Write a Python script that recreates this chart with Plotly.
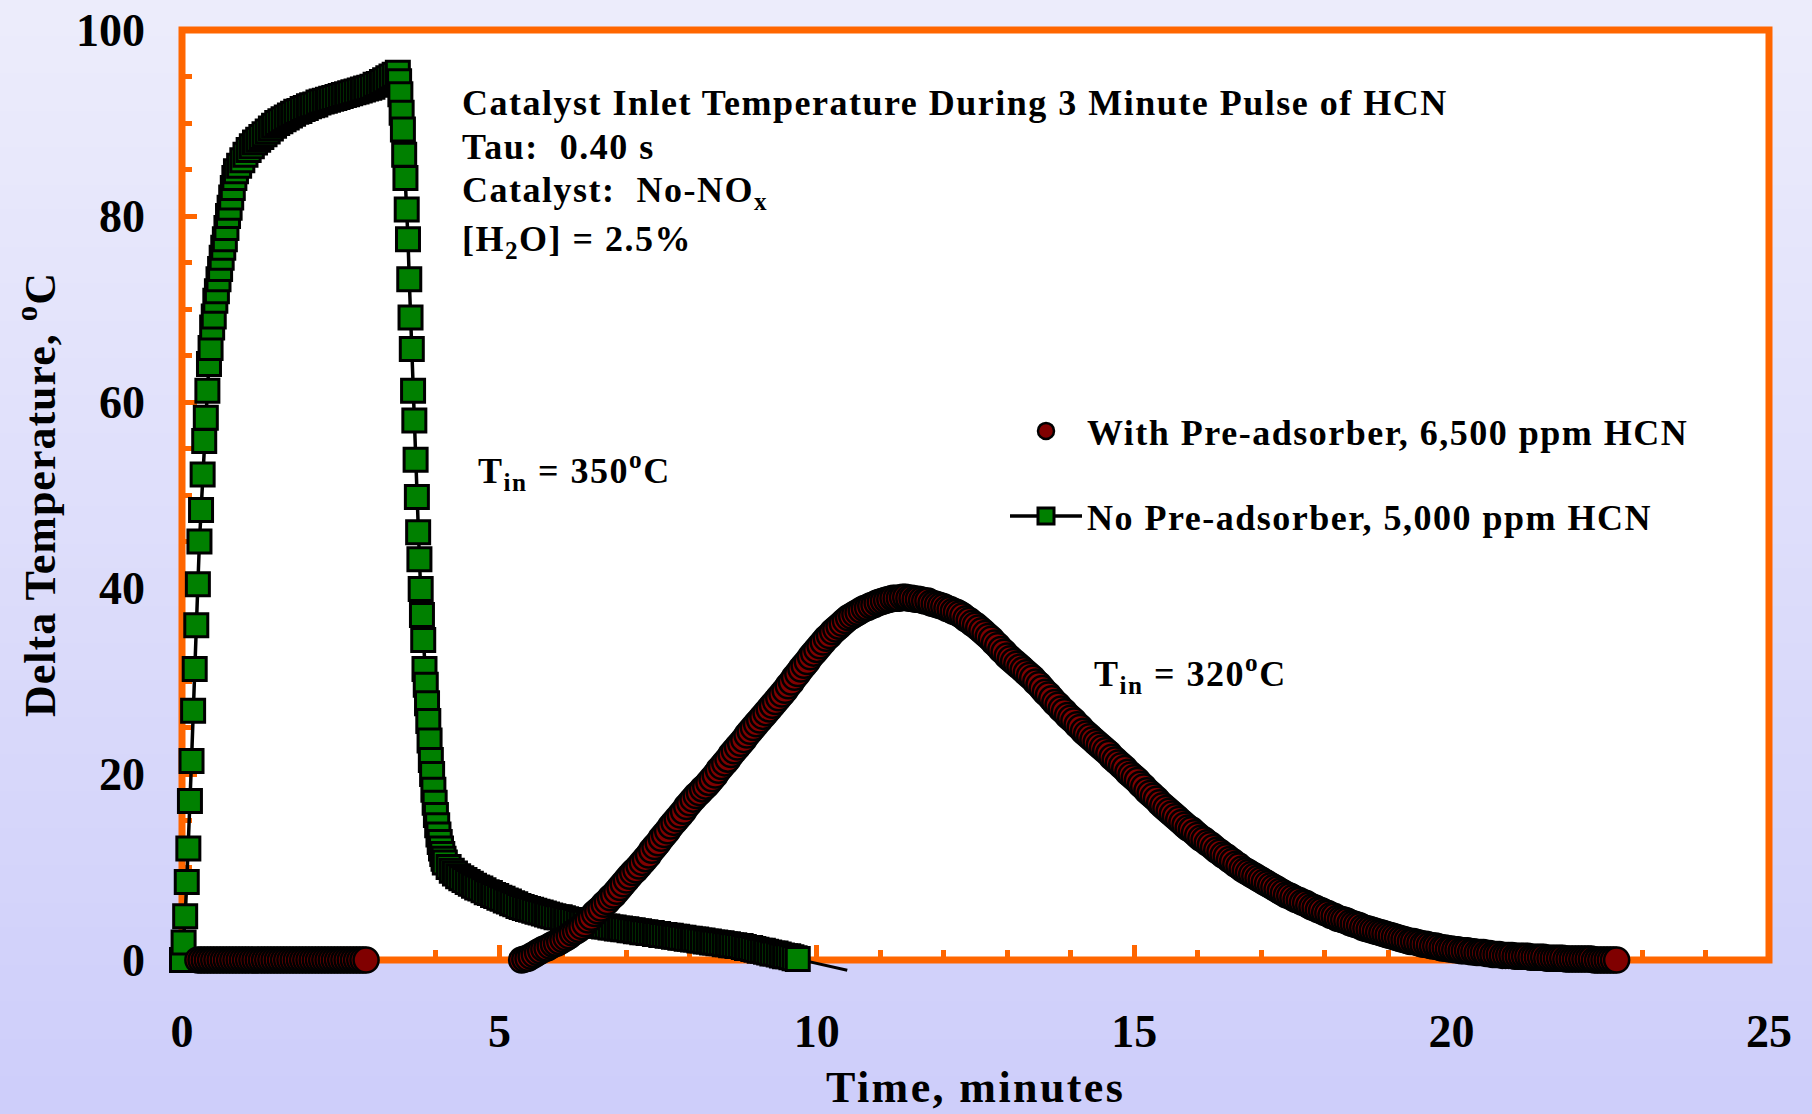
import numpy as np
import plotly.graph_objects as go

# ---------------------------------------------------------------------------
# Data (time in minutes, delta temperature in deg C)
# ---------------------------------------------------------------------------

# No pre-adsorber, 5,000 ppm HCN (T_in = 350 C)
# segment 1: fast rise, logged every 0.025 min from t = 0
no_pre_rise_t0, no_pre_rise_dt = 0.0, 0.025
no_pre_rise_temp = [
    0.0, 1.9, 4.7, 8.4, 12.0, 17.1, 21.4, 26.8, 31.3, 36.0,
    40.4, 45.0, 48.4, 52.2, 55.8, 58.3, 61.2, 64.1, 65.8, 68.0,
    69.2, 70.9, 71.9, 73.2, 74.3, 75.5, 76.6, 77.5, 78.7, 80.0,
    80.9, 82.0, 83.0, 84.1,
]
# segment 2: plateau during the 3 minute pulse, every 0.05 min from t = 0.85
no_pre_plateau_t0, no_pre_plateau_dt = 0.85, 0.05
no_pre_plateau_temp = [
    84.8, 85.4, 86.0, 86.6, 87.1, 87.5, 87.9, 88.2, 88.5, 88.8,
    89.1, 89.4, 89.7, 90.0, 90.2, 90.4, 90.6, 90.8, 91.0, 91.2,
    91.3, 91.5, 91.6, 91.8, 91.9, 92.0, 92.2, 92.3, 92.4, 92.5,
    92.6, 92.7, 92.8, 92.9, 93.0, 93.1, 93.2, 93.3, 93.4, 93.5,
    93.6, 93.7, 93.8, 93.9, 94.1, 94.2, 94.4, 94.6, 94.8, 95.0,
    95.2,
]
# segment 3: drop after the pulse, every 0.02 min from t = 3.40
no_pre_drop_t0, no_pre_drop_dt = 3.40, 0.02
no_pre_drop_temp = [
    95.4, 94.5, 93.1, 91.1, 89.3, 86.6, 84.1, 80.7, 77.5, 73.2,
    69.1, 65.7, 61.2, 58.0, 53.8, 49.8, 46.0, 43.1, 39.9, 37.1,
    34.4, 31.3, 29.6, 27.6, 25.7, 23.6, 21.5, 20.0, 18.3, 16.9,
    15.6, 14.5, 13.5, 12.7, 12.0, 11.4, 10.9, 10.5,
]
# segment 4: slow tail, every 0.05 min from t = 4.20
no_pre_tail_t0, no_pre_tail_dt = 4.20, 0.05
no_pre_tail_temp = [
    10.0, 9.6, 9.3, 9.0, 8.8, 8.6, 8.4, 8.2, 8.0, 7.8, 7.7, 7.5, 7.3, 7.2, 7.0, 6.9,
    6.7, 6.6, 6.4, 6.3, 6.1, 6.0, 5.8, 5.7, 5.6, 5.5, 5.4, 5.3, 5.2, 5.1, 5.0, 4.9, 4.8, 4.7, 4.6, 4.6,
    4.5, 4.4, 4.3, 4.3, 4.2, 4.1, 4.0, 4.0, 3.9, 3.8, 3.8, 3.7, 3.7, 3.6, 3.6, 3.5, 3.5, 3.4, 3.4, 3.3,
    3.3, 3.2, 3.2, 3.1, 3.1, 3.0, 3.0, 2.9, 2.9, 2.8, 2.8, 2.7, 2.7, 2.6, 2.6, 2.5, 2.5, 2.4, 2.4, 2.3,
    2.3, 2.2, 2.2, 2.1, 2.1, 2.0, 2.0, 1.9, 1.9, 1.8, 1.8, 1.7, 1.7, 1.6, 1.6, 1.5, 1.5, 1.4, 1.3, 1.3,
    1.2, 1.1, 1.0, 1.0, 0.9, 0.8, 0.7, 0.7, 0.6, 0.5, 0.4, 0.4, 0.3, 0.2, 0.1,
]
# thermocouple trace continues (line only) after the last logged point
no_pre_end_time = [9.70, 10.10, 10.48]
no_pre_end_temp = [0.1, -0.5, -1.1]

# With pre-adsorber, 6,500 ppm HCN (T_in = 320 C)
# segment 1: flat during the pulse, every 0.05 min from t = 0.25
pre_flat_t0, pre_flat_dt = 0.25, 0.05
pre_flat_temp = [
    0.0, 0.0, 0.0, 0.0, 0.0, 0.0, 0.0, 0.0, 0.0, 0.0,
    0.0, 0.0, 0.0, 0.0, 0.0, 0.0, 0.0, 0.0, 0.0, 0.0,
    0.0, 0.0, 0.0, 0.0, 0.0, 0.0, 0.0, 0.0, 0.0, 0.0,
    0.0, 0.0, 0.0, 0.0, 0.0, 0.0, 0.0, 0.0, 0.0, 0.0,
    0.0, 0.0, 0.0, 0.0, 0.0, 0.0, 0.0, 0.0, 0.0, 0.0,
    0.0, 0.0, 0.0, 0.0,
]
# segment 2: delayed exotherm, every 0.05 min from t = 5.35
pre_hump_t0, pre_hump_dt = 5.35, 0.05
pre_hump_temp = [
    0.0, 0.1, 0.2, 0.4, 0.6, 0.8, 1.0, 1.2, 1.3, 1.5, 1.7, 1.8, 2.0,
    2.2, 2.4, 2.6, 2.9, 3.1, 3.3, 3.6, 3.9, 4.3, 4.6, 5.0, 5.3, 5.6, 6.0, 6.3, 6.7, 7.0, 7.4, 7.8, 8.2,
    8.6, 9.0, 9.4, 9.7, 10.1, 10.5, 10.9, 11.3, 11.8, 12.2, 12.6, 13.1, 13.5, 13.9, 14.4, 14.8, 15.2, 15.6, 16.0, 16.5,
    16.9, 17.3, 17.7, 18.0, 18.4, 18.7, 19.1, 19.5, 19.9, 20.4, 20.8, 21.2, 21.6, 22.1, 22.5, 22.9, 23.3, 23.7, 24.2, 24.6,
    25.0, 25.4, 25.8, 26.2, 26.6, 27.0, 27.4, 27.8, 28.2, 28.6, 29.0, 29.5, 29.9, 30.4, 30.8, 31.3, 31.7, 32.1, 32.6, 33.0,
    33.4, 33.8, 34.2, 34.6, 34.9, 35.3, 35.6, 35.9, 36.2, 36.5, 36.8, 37.0, 37.2, 37.4, 37.6, 37.8, 37.9, 38.1, 38.2, 38.4,
    38.5, 38.6, 38.7, 38.8, 38.9, 38.9, 38.9, 39.0, 39.0, 38.9, 38.9, 38.8, 38.8, 38.7, 38.6, 38.6, 38.4, 38.3, 38.2, 38.1,
    38.0, 37.8, 37.7, 37.5, 37.4, 37.2, 37.0, 36.7, 36.5, 36.2, 36.0, 35.7, 35.4, 35.1, 34.8, 34.5, 34.1, 33.8, 33.4, 33.1,
    32.7, 32.4, 32.1, 31.8, 31.5, 31.2, 30.9, 30.6, 30.3, 29.9, 29.6, 29.2, 28.8, 28.5, 28.1, 27.7, 27.4, 27.0, 26.7, 26.3,
    26.0, 25.7, 25.3, 25.0, 24.6, 24.3, 24.0, 23.7, 23.4, 23.1, 22.8, 22.5, 22.2, 21.8, 21.5, 21.2, 20.9, 20.6, 20.2, 19.9,
    19.6, 19.3, 18.9, 18.6, 18.2, 17.9, 17.6, 17.3, 16.9, 16.6, 16.3, 16.0, 15.7, 15.4, 15.1, 14.8, 14.5, 14.2, 14.0, 13.7,
    13.4, 13.1, 12.9, 12.6, 12.4, 12.1, 11.8, 11.6, 11.3, 11.1, 10.8, 10.6, 10.3, 10.1, 9.8, 9.6, 9.4, 9.2, 9.0, 8.8,
    8.6, 8.4, 8.2, 8.0, 7.8, 7.6, 7.4, 7.2, 7.0, 6.9, 6.7, 6.5, 6.4, 6.2, 6.1, 5.9, 5.7, 5.6, 5.4, 5.3,
    5.1, 5.0, 4.8, 4.7, 4.5, 4.4, 4.3, 4.2, 4.0, 3.9, 3.8, 3.7, 3.5, 3.4, 3.3, 3.2, 3.1, 3.0, 2.9, 2.8,
    2.7, 2.6, 2.5, 2.4, 2.3, 2.2, 2.1, 2.0, 2.0, 1.9, 1.8, 1.7, 1.7, 1.6, 1.5, 1.5, 1.4, 1.3, 1.3, 1.2,
    1.2, 1.1, 1.1, 1.0, 1.0, 1.0, 0.9, 0.9, 0.8, 0.8, 0.8, 0.7, 0.7, 0.6, 0.6, 0.6, 0.5, 0.5, 0.5, 0.5,
    0.4, 0.4, 0.4, 0.4, 0.4, 0.3, 0.3, 0.3, 0.3, 0.3, 0.2, 0.2, 0.2, 0.2, 0.2, 0.2, 0.1, 0.1, 0.1, 0.1,
    0.1, 0.1, 0.1, 0.1, 0.1, 0.0, 0.0, 0.0, 0.0, 0.0, 0.0, 0.0, 0.0,
]

x_tick_vals = [0, 5, 10, 15, 20, 25]
y_tick_vals = [0, 20, 40, 60, 80, 100]


def sample_times(t0, dt, values):
    """Logging instants for a segment recorded at a fixed interval."""
    return np.round(t0 + dt * np.arange(len(values)), 3)


no_pre_time = np.concatenate([
    sample_times(no_pre_rise_t0, no_pre_rise_dt, no_pre_rise_temp),
    sample_times(no_pre_plateau_t0, no_pre_plateau_dt, no_pre_plateau_temp),
    sample_times(no_pre_drop_t0, no_pre_drop_dt, no_pre_drop_temp),
    sample_times(no_pre_tail_t0, no_pre_tail_dt, no_pre_tail_temp),
])
no_pre_temp = no_pre_rise_temp + no_pre_plateau_temp + no_pre_drop_temp + no_pre_tail_temp

pre_time = np.concatenate([
    sample_times(pre_flat_t0, pre_flat_dt, pre_flat_temp),
    sample_times(pre_hump_t0, pre_hump_dt, pre_hump_temp),
])
pre_temp = pre_flat_temp + pre_hump_temp

# ---------------------------------------------------------------------------
# Styling
# ---------------------------------------------------------------------------
FONT = "Liberation Serif"
ORANGE = "#FF6600"
W, H = 1812, 1114
# the plotting area reaches a little below zero so the trace end can dip under the frame
Y_LO, Y_HI = -1.5, 100
M_L, M_R, M_T, M_B = 182, 43, 30, 140
PW, PH = W - M_L - M_R, H - M_T - M_B
FRAME_Y0 = (0 - Y_LO) / (Y_HI - Y_LO)   # paper fraction where delta T = 0


def spaced(text, px):
    return f"<span style='letter-spacing:{px}px'>{text}</span>"


def paper_y(px_from_top):
    return (H - M_B - px_from_top) / PH


fig = go.Figure()

fig.add_trace(go.Scatter(
    x=no_pre_end_time, y=no_pre_end_temp, mode="lines",
    line=dict(color="black", width=3), showlegend=False,
    cliponaxis=False, hoverinfo="skip",
))
fig.add_trace(go.Scatter(
    x=no_pre_time, y=no_pre_temp, mode="lines+markers",
    name=spaced("No Pre-adsorber, 5,000 ppm HCN", 1.5),
    line=dict(color="black", width=3.5),
    marker=dict(symbol="square", size=23, color="#008000",
                line=dict(color="black", width=3)),
    cliponaxis=False, legend="legend2",
))
fig.add_trace(go.Scatter(
    x=pre_time, y=pre_temp, mode="markers",
    name=spaced("With Pre-adsorber, 6,500 ppm HCN", 1.5),
    marker=dict(symbol="circle", size=25, color="#800000",
                line=dict(color="black", width=2.5)),
    cliponaxis=False, legend="legend",
))

# lavender gradient backdrop, white plotting area, orange frame
shapes = []
n_bands = 90
top_rgb = np.array([237, 237, 252])
bot_rgb = np.array([206, 206, 250])
for i in range(n_bands):
    y_top_px = i * H / n_bands
    y_bot_px = (i + 1) * H / n_bands
    c = top_rgb + (bot_rgb - top_rgb) * (i + 0.5) / n_bands
    shapes.append(dict(
        type="rect", xref="paper", yref="paper", layer="below",
        x0=-M_L / PW, x1=1 + M_R / PW,
        y0=paper_y(y_bot_px) - 0.001, y1=paper_y(y_top_px) + 0.001,
        fillcolor=f"rgb({int(c[0])},{int(c[1])},{int(c[2])})", line=dict(width=0),
    ))
shapes.append(dict(type="rect", xref="paper", yref="paper", layer="below",
                   x0=0, x1=1, y0=FRAME_Y0, y1=1, fillcolor="white", line=dict(width=0)))
shapes.append(dict(type="rect", xref="paper", yref="paper", layer="below",
                   x0=0, x1=1, y0=FRAME_Y0, y1=1, fillcolor="rgba(0,0,0,0)",
                   line=dict(color=ORANGE, width=7)))

note_font = dict(family=FONT, size=36, color="black", weight="bold")
annotations = [
    dict(x=4.38, y=92.15, text=spaced("Catalyst Inlet Temperature During 3 Minute Pulse of HCN", 1.5)),
    dict(x=4.38, y=87.42, text=spaced("Tau:\u00a0 0.40 s", 1.5)),
    dict(x=4.38, y=82.58, text=spaced("Catalyst:\u00a0 No-NO<sub>x</sub>", 1.5)),
    dict(x=4.38, y=77.31, text=spaced("[H<sub>2</sub>O] = 2.5%", 1.5)),
    dict(x=4.63, y=52.6, text=spaced("T<sub>in</sub> = 350<sup>o</sup>C", 1.5)),
    dict(x=14.33, y=30.75, text=spaced("T<sub>in</sub> = 320<sup>o</sup>C", 1.5)),
]
for a in annotations:
    a.update(xref="x", yref="y", xanchor="left", yanchor="middle",
             showarrow=False, font=note_font)

annotations.append(dict(
    xref="paper", yref="paper", x=0.5, y=paper_y(1087),
    xanchor="center", yanchor="middle", showarrow=False,
    text=spaced("Time, minutes", 2.4),
    font=dict(family=FONT, size=44, color="black", weight="bold"),
))
annotations.append(dict(
    xref="paper", yref="paper", x=-(M_L - 38) / PW, y=paper_y(495),
    xanchor="center", yanchor="middle", showarrow=False, textangle=-90,
    text=spaced("Delta Temperature, <sup>o</sup>C", 1.0),
    font=dict(family=FONT, size=44, color="black", weight="bold"),
))

tick_font = dict(family=FONT, size=46, color="black", weight="bold")
axis_common = dict(
    showline=False, showgrid=False, zeroline=False,
    ticks="inside", ticklen=15, tickwidth=5, tickcolor=ORANGE,
    tickfont=tick_font, layer="below traces",
)

fig.update_layout(
    width=W, height=H,
    margin=dict(l=M_L, r=M_R, t=M_T, b=M_B, pad=0, autoexpand=False),
    paper_bgcolor="rgb(222,222,251)", plot_bgcolor="white",
    template="none",
    font=dict(family=FONT, color="black"),
    xaxis=dict(range=[0, 25], tickmode="array", tickvals=x_tick_vals,
               anchor="free", position=FRAME_Y0,
               ticklabelstandoff=40,
               minor=dict(ticks="inside", dtick=1, ticklen=10, tickwidth=5,
                          tickcolor=ORANGE, showgrid=False),
               **axis_common),
    yaxis=dict(range=[Y_LO, Y_HI], tickmode="array", tickvals=y_tick_vals,
               ticklabelstandoff=36,
               minor=dict(ticks="inside", tick0=0, dtick=5, ticklen=10, tickwidth=5,
                          tickcolor=ORANGE, showgrid=False),
               **axis_common),
    legend=dict(x=(1005 - M_L) / PW, y=paper_y(431),
                xanchor="left", yanchor="middle", bgcolor="rgba(0,0,0,0)",
                borderwidth=0, itemwidth=72,
                font=dict(family=FONT, size=36, color="black", weight="bold")),
    legend2=dict(x=(1005 - M_L) / PW, y=paper_y(516),
                 xanchor="left", yanchor="middle", bgcolor="rgba(0,0,0,0)",
                 borderwidth=0, itemwidth=72,
                 font=dict(family=FONT, size=36, color="black", weight="bold")),
    shapes=shapes,
    annotations=annotations,
    hovermode=False,
)

fig.write_html("out.html")
